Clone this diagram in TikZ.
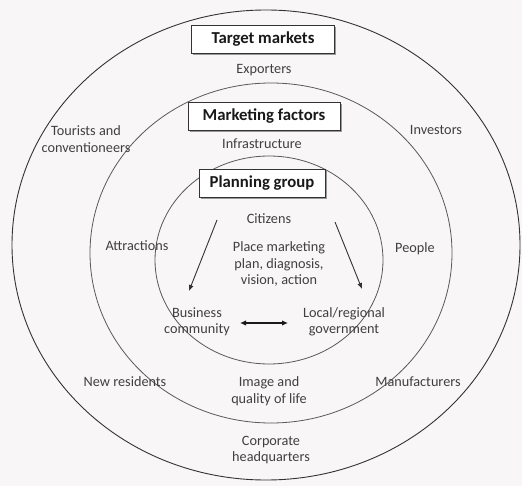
\documentclass[tikz,border=0pt]{standalone}
\usepackage{fontspec}
\setmainfont{Carlito}
\usetikzlibrary{arrows.meta,shadows}
\definecolor{bgc}{RGB}{248,246,246}
\begin{document}
\begin{tikzpicture}[x=1bp,y=-1bp,
  ring/.style={draw=black!65, line width=0.8bp},
  outerring/.style={draw=black!80, line width=0.9bp},
  titlebox/.style={draw=black!80, line width=0.8bp, fill=white,
    font=\fontsize{16.8}{18}\selectfont\bfseries, text=black!90,
    minimum height=28bp, inner sep=0pt,
    general shadow={fill=black!40, shadow xshift=1.6bp, shadow yshift=-1.6bp}},
  lbl/.style={font=\fontsize{14.3}{16.5}\selectfont, align=center, text=black!75, inner sep=1bp},
  arr/.style={draw=black!80, line width=0.9bp, -{Latex[length=6bp,width=5bp]}},
  darr/.style={draw=black!90, line width=1.3bp, {Latex[length=6bp,width=5.5bp]}-{Latex[length=6bp,width=5.5bp]}},
]
\fill[bgc] (0,0) rectangle (522,486);
\useasboundingbox (0,0) rectangle (522,486);

% rings
\draw[outerring] (266,245) ellipse [x radius=254, y radius=235];
\draw[ring] (271,253) ellipse [x radius=181, y radius=170];
\draw[ring] (269,260) ellipse [x radius=114, y radius=104];

% title boxes
\node[titlebox, minimum width=143bp] (tm) at (263,39) {Target markets};
\node[titlebox, minimum width=152bp] (mf) at (264,116) {Marketing factors};
\node[titlebox, minimum width=126bp] (pg) at (262,183) {Planning group};

% outer ring labels
\node[lbl] (exp) at (264,70) {Exporters};
\node[lbl] (tour) at (86,139) {Tourists and\\conventioneers};
\node[lbl] (inv) at (436,130) {Investors};
\node[lbl] (newr) at (125,382) {New residents};
\node[lbl] (manu) at (418,382) {Manufacturers};
\node[lbl, font=\fontsize{14.3}{16}\selectfont] (corp) at (271,450) {Corporate\\headquarters};

% middle ring labels
\node[lbl] (infra) at (262,144) {Infrastructure};
\node[lbl] (attr) at (137,246) {Attractions};
\node[lbl] (peop) at (415,249) {People};
\node[lbl, font=\fontsize{14.3}{17.5}\selectfont] (img) at (269,391) {Image and\\quality of life};

% inner labels
\node[lbl] (cit) at (269,219) {Citizens};
\node[lbl, font=\fontsize{14.3}{16.5}\selectfont] (place) at (279,264) {Place marketing\\plan, diagnosis,\\vision, action};
\node[lbl, font=\fontsize{14.3}{16}\selectfont] (bus) at (197,322) {Business\\community};
\node[lbl, font=\fontsize{14.3}{16}\selectfont] (loc) at (344,322) {Local/regional\\government};

% arrows
\coordinate (a1s) at (217,220);
\coordinate (a1e) at (189,291);
\coordinate (a2s) at (335,222);
\coordinate (a2e) at (362,289);
\coordinate (d1) at (240,323);
\coordinate (d2) at (288,323);
\draw[arr] (a1s) -- (a1e);
\draw[arr] (a2s) -- (a2e);
\draw[darr] (d1) -- (d2);
\end{tikzpicture}
\end{document}
